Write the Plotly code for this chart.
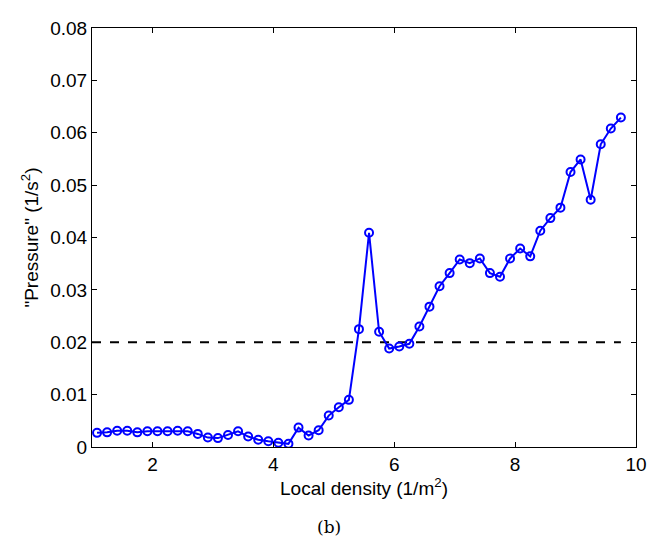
import plotly.graph_objects as go

density = [1.0833 + i / 6 for i in range(53)]
pressure = [0.0027, 0.0028, 0.0031, 0.0031, 0.0028, 0.0030, 0.0030, 0.0030, 0.0031, 0.0030,
            0.0025, 0.0018, 0.0017, 0.0023, 0.0030, 0.0020, 0.0014, 0.0011, 0.0008, 0.0006,
            0.0037, 0.0022, 0.0032, 0.0060, 0.0076, 0.0090, 0.0225, 0.0409, 0.0220, 0.0188,
            0.0192, 0.0197, 0.0230, 0.0268, 0.0307, 0.0332, 0.0358, 0.0351, 0.0360, 0.0332,
            0.0325, 0.0360, 0.0379, 0.0364, 0.0413, 0.0437, 0.0457, 0.0525, 0.0549, 0.0472,
            0.0578, 0.0608, 0.0629]
threshold_x = [1.0, 9.75]
threshold_y = [0.02, 0.02]
x_ticks = [2, 4, 6, 8, 10]
y_ticks = [0, 0.01, 0.02, 0.03, 0.04, 0.05, 0.06, 0.07, 0.08]
y_tick_labels = ["0", "0.01", "0.02", "0.03", "0.04", "0.05", "0.06", "0.07", "0.08"]

FONT = "Liberation Sans, Arial, Helvetica"

fig = go.Figure()
fig.add_trace(go.Scatter(
    x=threshold_x, y=threshold_y, mode="lines",
    line=dict(color="black", width=2, dash="dash"), showlegend=False))
fig.add_trace(go.Scatter(
    x=density, y=pressure, mode="lines+markers",
    line=dict(color="#0000ff", width=2),
    marker=dict(symbol="circle-open", size=8, color="#0000ff", line=dict(width=2)),
    showlegend=False))

axis_common = dict(
    showgrid=False, zeroline=False, showline=True, linecolor="black", linewidth=1,
    mirror="ticks", ticks="inside", ticklen=5, tickcolor="black",
    ticklabeloverflow="allow",
    tickfont=dict(family=FONT, size=19, color="black"),
)
fig.update_xaxes(range=[1, 10], tickvals=x_ticks, ticktext=[str(v) for v in x_ticks],
                 title=dict(text="Local density (1/m<sup>2</sup>)", standoff=6,
                            font=dict(family=FONT, size=19, color="black")),
                 **axis_common)
fig.update_yaxes(range=[0, 0.08], tickvals=y_ticks, ticktext=y_tick_labels,
                 title=dict(text='"Pressure" (1/s<sup>2</sup>)', standoff=6,
                            font=dict(family=FONT, size=19, color="black")),
                 **axis_common)

fig.add_annotation(text="(b)", xref="paper", yref="paper", x=0.436, y=-0.19,
                   showarrow=False, yanchor="middle",
                   font=dict(family="DejaVu Serif, Liberation Serif", size=17, color="black"))

fig.update_layout(
    width=654, height=531,
    margin=dict(l=84, r=26, t=10, b=92),
    plot_bgcolor="white", paper_bgcolor="white",
)
fig.write_html("out.html")
